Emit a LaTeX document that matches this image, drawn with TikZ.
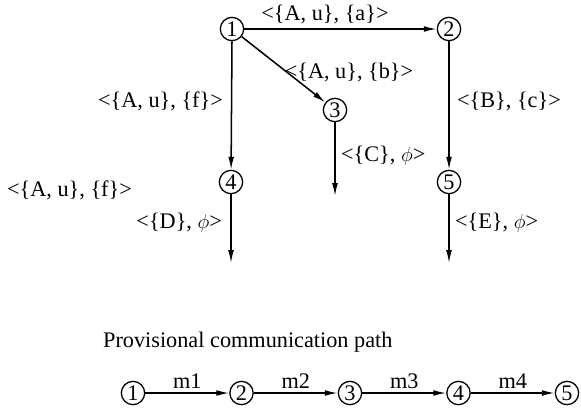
\documentclass[tikz,border=0pt]{standalone}
\usepackage{fontspec}
\setmainfont{Liberation Serif}
\usetikzlibrary{arrows.meta}
\tikzset{
  vertex/.style={draw,circle,line width=1.1pt,inner sep=0pt,minimum size=0.7cm},
  msg/.style={-{Latex[length=11pt,width=5pt]},line width=1.3pt},
}
\begin{document}
\begin{tikzpicture}[x=0.03cm,y=-0.03cm,font=\fontsize{19}{22}\selectfont]
  \useasboundingbox (0,0) rectangle (581,411);
  % spanning tree of the messages
  \node[vertex] (n1) at (232,29) {1};
  \node[vertex] (n2) at (449,29) {2};
  \node[vertex] (n3) at (335,110) {3};
  \node[vertex] (n4) at (231,182) {4};
  \node[vertex] (n5) at (449,182) {5};
  \coordinate (e3) at (335,196);
  \coordinate (e4) at (231,263);
  \coordinate (e5) at (449,263);
  \draw[msg] (n1)--(n2);
  \draw[msg] (n1)--(n3);
  \draw[msg] (n1.south)--(n4);
  \draw[msg] (n2)--(n5);
  \draw[msg] (n3)--(e3);
  \draw[msg] (n4)--(e4);
  \draw[msg] (n5)--(e5);
  \node (la) at (325,14) {<\{A, u\}, \{a\}>};
  \node (lb) at (349,72) {<\{A, u\}, \{b\}>};
  \node[anchor=east] (lf) at (227,101) {<\{A, u\}, \{f\}>};
  \node[anchor=west] (lc) at (453,101) {<\{B\}, \{c\}>};
  \node[anchor=west] (lC) at (337,156) {<\{C\}, $\phi$>};
  \node[anchor=west] (lg) at (3,190) {<\{A, u\}, \{f\}>};
  \node[anchor=east] (lD) at (226,223) {<\{D\}, $\phi$>};
  \node[anchor=west] (lE) at (451,223) {<\{E\}, $\phi$>};
  % provisional path
  \node[anchor=west] (title) at (99,342) {Provisional communication path};
  \foreach \i/\px in {1/133,2/241.5,3/350,4/458.5,5/567}
    \node[vertex] (p\i) at (\px,393) {\i};
  \foreach \i/\j in {1/2,2/3,3/4,4/5}
    \draw[msg] (p\i)--(p\j) node[midway,above] (m\i) {m\i};
\end{tikzpicture}
\end{document}
